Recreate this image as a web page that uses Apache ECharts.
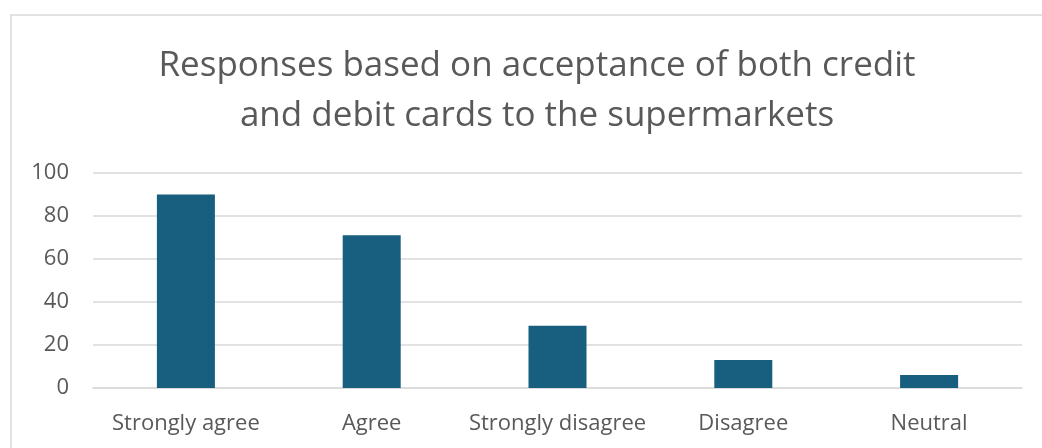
<!DOCTYPE html>
<html>
<head>
<meta charset="utf-8">
<script src="https://cdn.jsdelivr.net/npm/echarts@6/dist/echarts.min.js"></script>
<style>
  html, body { margin: 0; padding: 0; background: #fff; }
  #chart { width: 1042px; height: 448px; }
</style>
</head>
<body>
<div id="chart"></div>
<script>
// Survey responses: acceptance of both credit and debit cards
const titleLines = ['Responses based on acceptance of both credit', 'and debit cards to the supermarkets'];
const categories = ['Strongly agree', 'Agree', 'Strongly disagree', 'Disagree', 'Neutral'];
const responses = [90, 71, 29, 13, 6];
const yTicks = [0, 20, 40, 60, 80, 100];

const textColor = '#595959';
const lineColor = '#D9D9D9';
const barColor = '#175E7F';
const fontFamily = '"Open Sans", "Noto Sans", sans-serif';

const chart = echarts.init(document.getElementById('chart'), null, { renderer: 'canvas' });
chart.setOption({
  animation: false,
  backgroundColor: '#ffffff',
  graphic: [{
    type: 'rect',
    shape: { x: 11, y: 15, width: 1200, height: 600 },
    style: { fill: 'none', stroke: lineColor, lineWidth: 1.5 },
    silent: true
  }],
  title: {
    text: titleLines.join('\n'),
    left: 532,
    textAlign: 'center',
    top: 36,
    textStyle: {
      color: textColor,
      fontFamily: fontFamily,
      fontWeight: 'normal',
      fontSize: 35,
      lineHeight: 50
    }
  },
  grid: { left: 93, right: 20, top: 173, bottom: 60 },
  xAxis: {
    type: 'category',
    data: categories,
    axisLine: { show: true, lineStyle: { color: lineColor, width: 1.5 } },
    axisTick: { show: false },
    axisLabel: { color: textColor, fontFamily: fontFamily, fontSize: 22, margin: 25, interval: 0 }
  },
  yAxis: {
    type: 'value',
    min: yTicks[0],
    max: yTicks[yTicks.length - 1],
    interval: yTicks[1] - yTicks[0],
    axisLine: { show: false },
    axisTick: { show: false },
    axisLabel: { color: textColor, fontFamily: fontFamily, fontSize: 22, margin: 24 },
    splitLine: { lineStyle: { color: lineColor, width: 1.5 } }
  },
  series: [{
    type: 'bar',
    data: responses,
    barWidth: 58,
    itemStyle: { color: barColor }
  }]
});
</script>
</body>
</html>
